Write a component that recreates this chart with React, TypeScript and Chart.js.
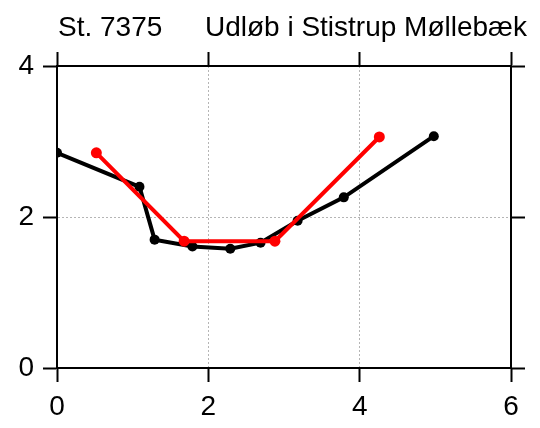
import React, { useEffect, useRef } from "react";
import { Chart, registerables } from "chart.js";

Chart.register(...registerables);

const titleLeft = "St. 7375";
const titleRight = "Udløb i Stistrup Møllebæk";

const blackX = [0, 1.09, 1.29, 1.79, 2.29, 2.69, 3.18, 3.79, 4.98];
const blackY = [2.85, 2.4, 1.7, 1.61, 1.58, 1.66, 1.95, 2.26, 3.07];
const redX = [0.52, 1.68, 2.88, 4.26];
const redY = [2.85, 1.68, 1.68, 3.06];

const xMin = 0, xMax = 6, xStep = 2;
const yMin = 0, yMax = 4, yStep = 2;

const FONT = "'Liberation Sans', Arial, Helvetica, sans-serif";

export default function App() {
  const ref = useRef<HTMLCanvasElement | null>(null);
  useEffect(() => {
    document.body.style.margin = "0";
    const canvas = ref.current;
    if (!canvas) return;
    const titlePlugin = {
      id: "customTitle",
      afterDraw(chart: any) {
        const ctx = chart.ctx;
        ctx.save();
        ctx.fillStyle = "#000";
        ctx.font = `28px ${FONT}`;
        ctx.textBaseline = "alphabetic";
        ctx.textAlign = "left";
        ctx.fillText(titleLeft, chart.chartArea.left + 1, 36);
        ctx.textAlign = "right";
        ctx.fillText(titleRight, chart.chartArea.right + 16, 36);
        ctx.restore();
      },
    };
    const gridColor = (c: any) =>
      c.tick && (c.tick.value === 0 || c.tick.value === 6 || (c.tick.value === 4 && c.scale.axis === "y")) ? "rgba(0,0,0,0)" : "#b5b5b5";
    const chart = new Chart(canvas, {
      type: "line",
      data: {
        datasets: [
          {
            data: redX.map((x, i) => ({ x, y: redY[i] })),
            borderColor: "#ff0000",
            backgroundColor: "#ff0000",
            borderWidth: 4,
            pointRadius: 5.5,
            pointBorderWidth: 0,
            clip: 0,
          },
          {
            data: blackX.map((x, i) => ({ x, y: blackY[i] })),
            borderColor: "#000000",
            backgroundColor: "#000000",
            borderWidth: 4,
            pointRadius: 5,
            pointBorderWidth: 0,
            clip: 0,
          },
        ],
      },
      options: {
        animation: false,
        responsive: false,
        maintainAspectRatio: false,
        layout: { padding: 0 },
        plugins: { legend: { display: false }, tooltip: { enabled: false }, title: { display: false } },
        scales: {
          x: {
            type: "linear",
            position: "bottom",
            min: xMin,
            max: xMax,
            ticks: { stepSize: xStep, color: "#000", font: { size: 28, family: FONT }, padding: 8 },
            grid: { color: gridColor, lineWidth: 1, tickColor: "#000", tickLength: 14, tickWidth: 2 },
            border: { display: true, color: "#000", width: 2, dash: [2, 2] },
            afterFit: (s: any) => { s.height = 60; },
          },
          x2: {
            type: "linear",
            position: "top",
            min: xMin,
            max: xMax,
            ticks: { stepSize: xStep, display: false },
            grid: { drawOnChartArea: false, tickColor: "#000", tickLength: 14, tickWidth: 2 },
            border: { display: true, color: "#000", width: 2 },
            afterFit: (s: any) => { s.height = 66; },
          },
          y: {
            type: "linear",
            position: "left",
            min: yMin,
            max: yMax,
            ticks: { stepSize: yStep, color: "#000", font: { size: 28, family: FONT }, padding: 9 },
            grid: { color: gridColor, lineWidth: 1, tickColor: "#000", tickLength: 14, tickWidth: 2 },
            border: { display: true, color: "#000", width: 2, dash: [2, 2] },
            afterFit: (s: any) => { s.width = 57; },
          },
          y2: {
            type: "linear",
            position: "right",
            min: yMin,
            max: yMax,
            ticks: { stepSize: yStep, display: false },
            grid: { drawOnChartArea: false, tickColor: "#000", tickLength: 14, tickWidth: 2 },
            border: { display: true, color: "#000", width: 2 },
            afterFit: (s: any) => { s.width = 29; },
          },
        },
      } as any,
      plugins: [titlePlugin],
    });
    return () => chart.destroy();
  }, []);
  return (
    <div style={{ width: 540, height: 428 }}>
      <canvas ref={ref} width={540} height={428} style={{ display: "block" }} />
    </div>
  );
}
